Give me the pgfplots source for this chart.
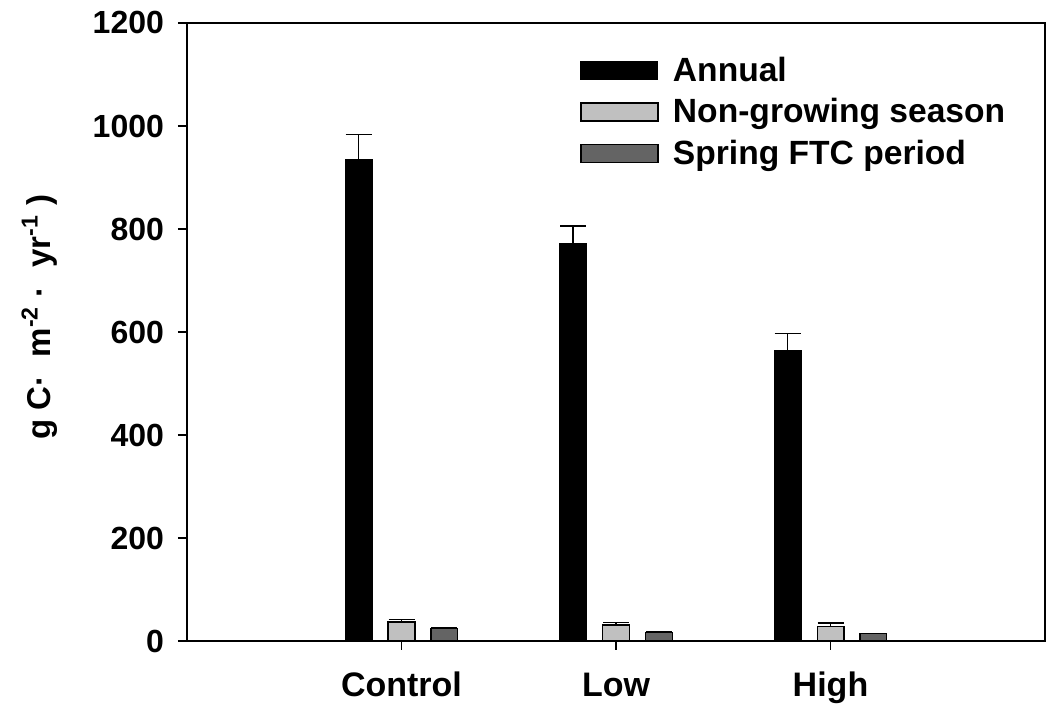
\documentclass[border=0pt]{standalone}
\usepackage{fontspec}
\setmainfont{Liberation Sans}
\usepackage{pgfplots}
\pgfplotsset{compat=1.18}
\definecolor{ngray}{RGB}{192,192,192}
\definecolor{sgray}{RGB}{100,100,100}
\pgfplotsset{
  barleg/.style={legend image code/.code={
    \draw[##1] (0pt,-4.5pt) rectangle (38.5pt,4.5pt);
    \path[draw=none, fill=none] (0pt,0pt) -- (44pt,0pt);}},
}
\begin{document}
\begin{tikzpicture}
\begin{axis}[
  scale only axis, width=429pt, height=309pt,
  xmin=0, xmax=4, ymin=0, ymax=1200,
  xtick={1,2,3}, xticklabels={Control,Low,High},
  ytick={0,200,...,1200},
  tick align=outside, xtick pos=bottom, ytick pos=left,
  major tick length=4.5pt,
  axis line style={line width=0.8pt},
  tick style={line width=0.7pt, black},
  font=\bfseries\fontsize{16}{19}\selectfont,
  yticklabel style={font=\bfseries\fontsize{16}{19}\selectfont, xshift=-3.5pt},
  xticklabel style={font=\bfseries\fontsize{17}{20}\selectfont, text height=12.5pt, yshift=-7pt},
  /pgf/number format/assume math mode=true,
  /pgf/number format/1000 sep={},
  ylabel={g C·\ \ m\textsuperscript{-2}\ ·\ \ yr\textsuperscript{-1}\ )},
  ylabel style={at={(rel axis cs:-0.172,0.524)}, anchor=center,
    font=\bfseries\fontsize{16.5}{19}\selectfont},
  legend style={draw=none, fill=none, at={(rel axis cs:0.458,0.952)}, anchor=north west,
    inner sep=0pt, row sep=3pt, font=\bfseries\fontsize{16.8}{19}\selectfont},
  legend cell align=left,
  error bars/error bar style={line width=0.65pt, black},
  error bars/error mark options={rotate=90, mark size=6.5pt, line width=0.65pt, black},
]
\addplot[ybar, barleg, bar width=0.125, bar shift=0, fill=black, draw=black, line width=0.5pt,
  error bars/.cd, y dir=plus, y explicit]
  table[x=x, y=y, y error=e] {
x y e
0.8 934 50
1.8 772 34
2.8 564 33
};
\addlegendentry{Annual}
\addplot[ybar, barleg, bar width=0.125, bar shift=0, fill=ngray, draw=black, line width=0.6pt,
  error bars/.cd, y dir=plus, y explicit]
  table[x=x, y=y, y error=e] {
x y e
1 37 5
2 31 5
3 28 7
};
\addlegendentry{Non-growing season}
\addplot[ybar, barleg, bar width=0.125, bar shift=0, fill=sgray, draw=black, line width=0.6pt,
  error bars/.cd, y dir=plus, y explicit]
  table[x=x, y=y, y error=e] {
x y e
1.2 25 1
2.2 17 1
3.2 14 1
};
\addlegendentry{Spring FTC period}
\end{axis}
\pgfresetboundingbox
\path[use as bounding box] (-93.5pt,-31.5pt) rectangle (432.5pt,320.5pt);
\end{tikzpicture}
\end{document}
